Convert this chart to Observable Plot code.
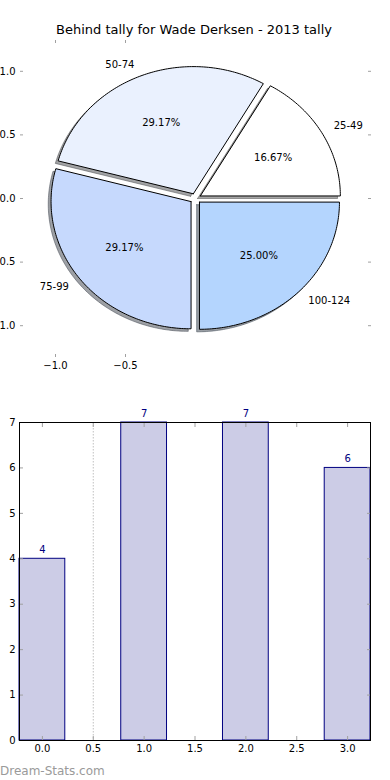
<!DOCTYPE html>
<html>
<head>
<meta charset="utf-8">
<script src="https://cdn.jsdelivr.net/npm/d3@7"></script>
<script src="https://cdn.jsdelivr.net/npm/@observablehq/plot@0.6"></script>
<style>
  body { margin: 0; background: #fff; }
  #wrap { position: relative; width: 390px; height: 780px; overflow: hidden; font-family: "DejaVu Sans", sans-serif; }
  #title { position: absolute; left: 0; top: 22.5px; width: 388px; text-align: center; font-size: 13px; line-height: 13px; color: #000; }
  #pie { position: absolute; left: 0; top: 0; }
  #bar { position: absolute; left: 0; top: 390px; }
  #mark { position: absolute; left: 0; top: 765px; font-size: 12px; line-height: 12px; color: #9a9a9a; }
  svg { overflow: visible; }
</style>
</head>
<body>
<div id="wrap">
  <div id="pie"></div>
  <div id="bar"></div>
  <div id="title">Behind tally for Wade Derksen - 2013 tally</div>
  <div id="mark">Dream-Stats.com</div>
</div>
<script>
// ---- data ----
const categories = ["25-49", "50-74", "75-99", "100-124"];
const counts = [4, 7, 7, 6];
const pieColors = ["#ffffff", "#eaf1fe", "#c6d9fd", "#b4d5fe"];
const pieTicksX = [-1.0, -0.5];
const pieTicksY = [-1.0, -0.5, 0.0, 0.5, 1.0];
const barTicksX = [0, 0.5, 1, 1.5, 2, 2.5, 3];
const barTicksY = [0, 1, 2, 3, 4, 5, 6, 7];
const gridX = [0.5];

// ---- pie geometry from the counts ----
const total = d3.sum(counts);
const explode = 0.04;
const shadowOff = 0.02;
let a0 = 0;
const slices = categories.map((c, i) => {
  const a1 = a0 + counts[i] / total * 2 * Math.PI;
  const mid = (a0 + a1) / 2;
  const cx = explode * Math.cos(mid), cy = explode * Math.sin(mid);
  const pts = [{x: cx, y: cy}];
  const n = Math.max(2, Math.ceil((a1 - a0) / (Math.PI / 180)));
  for (let k = 0; k <= n; k++) {
    const a = a0 + (a1 - a0) * k / n;
    pts.push({x: cx + Math.cos(a), y: cy + Math.sin(a)});
  }
  pts.push({x: cx, y: cy});
  const s = {
    category: c, count: counts[i], color: pieColors[i], pts,
    lx: cx + 1.1 * Math.cos(mid), ly: cy + 1.1 * Math.sin(mid),
    px: cx + 0.6 * Math.cos(mid), py: cy + 0.6 * Math.sin(mid),
    pct: (100 * counts[i] / total).toFixed(2) + "%"
  };
  a0 = a1;
  return s;
});
const shadowColor = (c) => { const r = d3.rgb(c); return d3.rgb(r.r * 0.3, r.g * 0.3, r.b * 0.3).formatHex(); };
const fmt1 = d => d.toFixed(1).replace("-", "\u2212");
const tickGrey = "#a0a0a0";

const pie = Plot.plot({
  width: 390, height: 390,
  marginLeft: 20, marginRight: 20, marginTop: 39, marginBottom: 33,
  style: {fontFamily: "DejaVu Sans", fontSize: "10px", background: "transparent", color: "#000"},
  x: {domain: [-1.25, 1.25], label: null},
  y: {domain: [-1.25, 1.25], label: null},
  marks: [
    ...slices.map(s => Plot.line(s.pts, {
      x: d => d.x - shadowOff, y: d => d.y - shadowOff,
      fill: shadowColor(s.color), fillOpacity: 0.5,
      stroke: shadowColor(s.color), strokeOpacity: 0.5, strokeWidth: 1
    })),
    ...slices.map(s => Plot.line(s.pts, {
      x: "x", y: "y", fill: s.color, stroke: "#000", strokeWidth: 1, strokeLinejoin: "miter"
    })),
    Plot.text(slices.filter(s => s.lx >= 0), {x: "lx", y: "ly", text: "category", textAnchor: "start", fill: "#000"}),
    Plot.text(slices.filter(s => s.lx < 0), {x: "lx", y: "ly", text: "category", textAnchor: "end", fill: "#000"}),
    Plot.text(slices, {x: "px", y: "py", text: "pct", fill: "#000"}),
    Plot.axisX({ticks: pieTicksX, anchor: "bottom", tickSize: -3, tickPadding: 7, tickFormat: fmt1, stroke: tickGrey, fill: "#000", label: null}),
    Plot.axisX({ticks: pieTicksX, anchor: "top", tickSize: -3, tickFormat: () => "", stroke: tickGrey, label: null}),
    Plot.axisY({ticks: pieTicksY, anchor: "left", tickSize: -3, tickPadding: 8, tickFormat: fmt1, stroke: tickGrey, fill: "#000", label: null}),
    Plot.axisY({ticks: pieTicksY, anchor: "right", tickSize: -3, tickFormat: () => "", stroke: tickGrey, label: null})
  ]
});
document.getElementById("pie").appendChild(pie);

// ---- bar chart ----
const barWidth = 0.45;
const barData = categories.map((c, i) => ({i, category: c, count: counts[i]}));
const bar = Plot.plot({
  width: 390, height: 390,
  marginLeft: 19, marginRight: 20, marginTop: 32, marginBottom: 40,
  style: {fontFamily: "DejaVu Sans", fontSize: "10px", background: "transparent", color: "#000"},
  x: {domain: [-barWidth / 2, counts.length - 1 + barWidth / 2], label: null},
  y: {domain: [0, d3.max(counts)], label: null},
  marks: [
    Plot.ruleX(gridX, {stroke: "#c0c0c0", strokeDasharray: "1.5,1.5", strokeWidth: 1}),
    Plot.rectY(barData, {x1: d => d.i - barWidth / 2, x2: d => d.i + barWidth / 2, y1: 0, y2: "count",
      fill: "navy", fillOpacity: 0.2, stroke: "navy", strokeWidth: 1}),
    Plot.text(barData, {x: "i", y: "count", text: d => String(d.count), dy: -9, fill: "navy"}),
    Plot.axisX({ticks: barTicksX, anchor: "bottom", tickSize: -4, tickPadding: 8, tickFormat: fmt1, stroke: tickGrey, fill: "#000", label: null}),
    Plot.axisX({ticks: barTicksX, anchor: "top", tickSize: -4, tickFormat: () => "", stroke: tickGrey, label: null}),
    Plot.axisY({ticks: barTicksY, anchor: "left", tickSize: -4, tickPadding: 8, tickFormat: d => String(d), stroke: tickGrey, fill: "#000", label: null}),
    Plot.axisY({ticks: barTicksY, anchor: "right", tickSize: -4, tickFormat: () => "", stroke: tickGrey, label: null}),
    Plot.frame({stroke: "#000", strokeWidth: 1})
  ]
});
document.getElementById("bar").appendChild(bar);
</script>
</body>
</html>
